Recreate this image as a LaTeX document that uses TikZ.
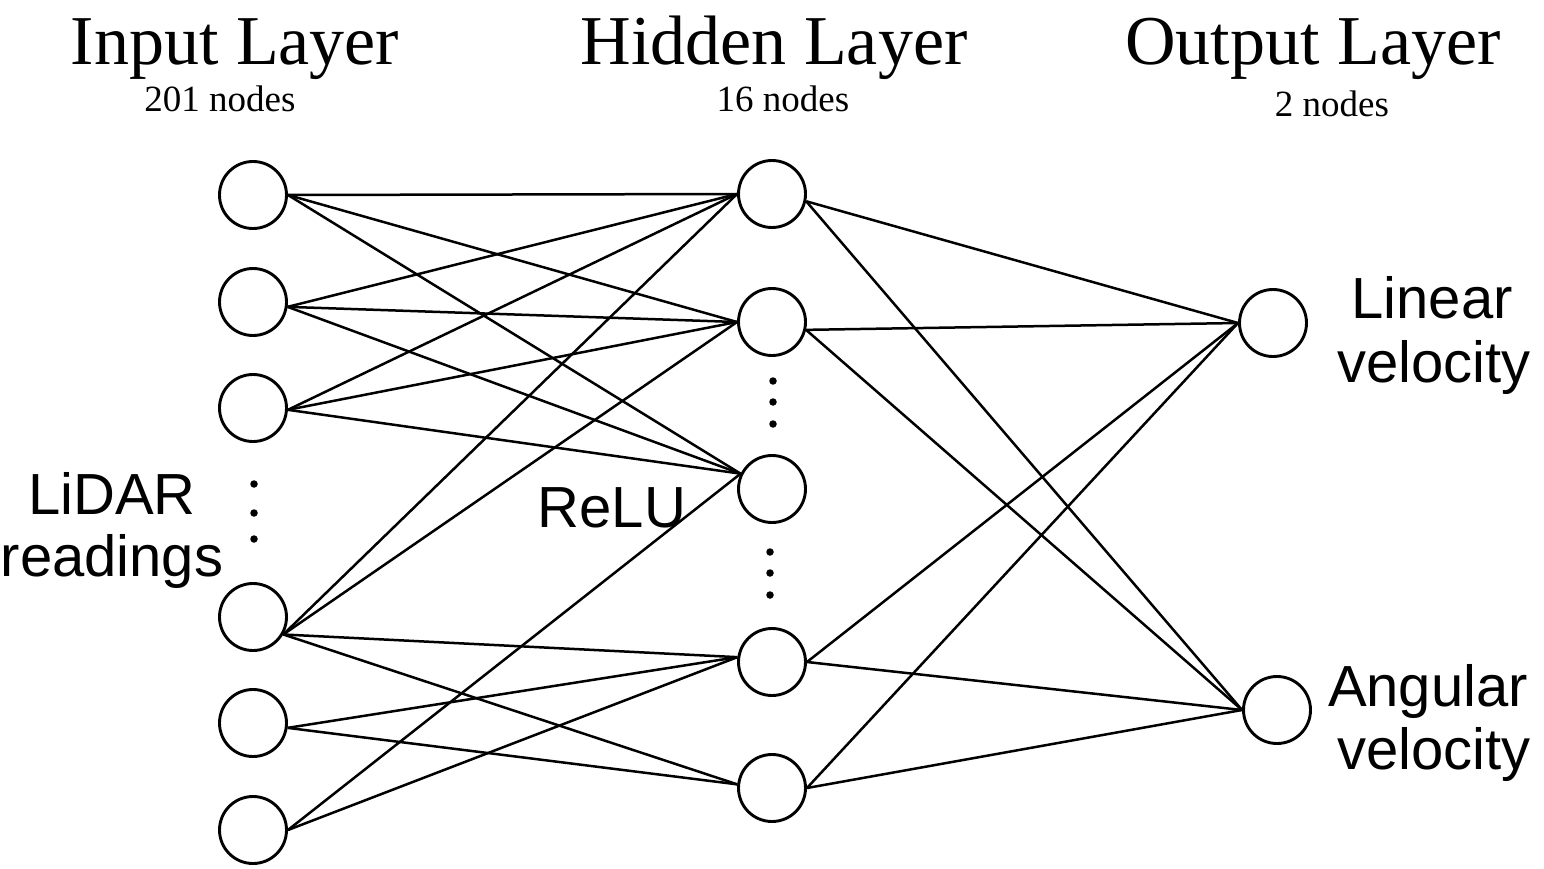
\documentclass[tikz,border=0pt]{standalone}
\usepackage{fontspec}
\setmainfont{Liberation Serif}
\newfontfamily\labelsans{Liberation Sans}
\begin{document}
\begin{tikzpicture}[x=1pt,y=-1pt,
  neuron/.style={circle,draw,line width=2.9pt,minimum size=67pt,inner sep=0pt},
  link/.style={line width=2.5pt},
  title/.style={anchor=base,inner sep=0pt,font=\fontsize{70}{70}\selectfont},
  count/.style={anchor=base,inner sep=0pt,font=\fontsize{37}{37}\selectfont},
  tag/.style={anchor=base,inner sep=0pt,font=\labelsans\fontsize{58}{58}\selectfont},
  dot/.style={circle,fill,inner sep=0pt,minimum size=7.5pt}]
\useasboundingbox (0,0) rectangle (1544,869);

% layer headings
\node[title] (tin)  at (235,65)  {Input Layer};
\node[title] (thid) at (774,65)  {Hidden Layer};
\node[title] (tout) at (1313,65) {Output Layer};
\node[count] (cin)  at (220,112)  {201 nodes};
\node[count] (chid) at (783,112)  {16 nodes};
\node[count] (cout) at (1332,117) {2 nodes};

% input layer
\node[neuron] (i1) at (253,195) {};
\node[neuron] (i2) at (253,302) {};
\node[neuron] (i3) at (253,408) {};
\node[neuron] (i4) at (253,617) {};
\node[neuron] (i5) at (253,723) {};
\node[neuron] (i6) at (253,830) {};
\node[dot] (di1) at (254,484) {};
\node[dot] (di2) at (254,513) {};
\node[dot] (di3) at (254,539) {};

% hidden layer
\node[neuron] (h1) at (772,194) {};
\node[neuron] (h2) at (772,322) {};
\node[neuron] (h3) at (772,489) {};
\node[neuron] (h4) at (772,662) {};
\node[neuron] (h5) at (772,788) {};
\node[dot] (dh1) at (773,381) {};
\node[dot] (dh2) at (773,402) {};
\node[dot] (dh3) at (773,424) {};
\node[dot] (dh4) at (770,552) {};
\node[dot] (dh5) at (770,573) {};
\node[dot] (dh6) at (770,595) {};

% output layer
\node[neuron] (o1) at (1273,323) {};
\node[neuron] (o2) at (1277,710) {};

% side labels
\node[tag] (lid1) at (112,514) {LiDAR};
\node[tag] (lid2) at (112,576) {readings};
\node[tag] (relu) at (612,527) {ReLU};
\node[tag] (lin1) at (1432,318) {Linear};
\node[tag] (lin2) at (1434,382) {velocity};
\node[tag] (ang1) at (1428,706) {Angular};
\node[tag] (ang2) at (1434,769) {velocity};

% input -> hidden
\foreach \s/\a in {i1/0,i2/-8,i3/-3}{
  \draw[link] (\s.\a) -- (h1.west);
  \draw[link] (\s.\a) -- (h2.west);
  \draw[link] (\s.\a) -- (h3.154);
}
\foreach \t/\b in {h1/180,h2/180,h4/172,h5/174}
  \draw[link] (i4.-30) -- (\t.\b);
\draw[link] (i5.-8) -- (h4.172);
\draw[link] (i5.-8) -- (h5.174);
\draw[link] (i6.east) -- (h3.154);
\draw[link] (i6.east) -- (h4.172);

% hidden -> output
\foreach \s/\a in {h1/-12,h2/-13,h4/0,h5/0}{
  \draw[link] (\s.\a) -- (o1.west);
  \draw[link] (\s.\a) -- (o2.west);
}
\end{tikzpicture}
\end{document}
